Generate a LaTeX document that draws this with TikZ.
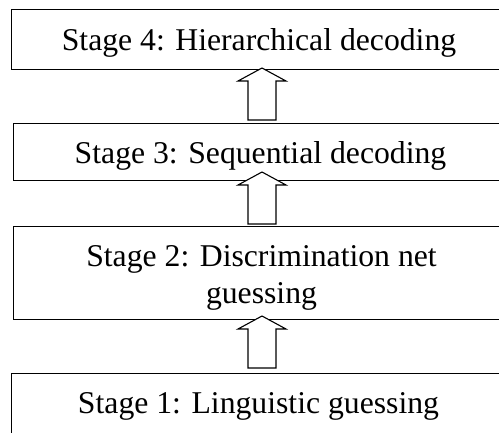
\documentclass[tikz,border=0pt]{standalone}
\usepackage{fontspec}
\setmainfont{Liberation Serif}
\begin{document}
\begin{tikzpicture}[x=1pt,y=-1pt,
  stagebox/.style={draw, line width=1.2pt, fill=white, minimum width=520pt,
    inner sep=0pt, anchor=north west},
  stagetext/.style={inner sep=0pt, anchor=base, align=center,
    font=\fontsize{31.7}{37}\selectfont},
  blockarrow/.style={draw, line width=1.1pt, fill=white, line join=miter}]
\useasboundingbox (0,0) rectangle (499,432);
\clip (0,0) rectangle (499,432);

\begin{scope}[overlay]
% the four stage frames; they run past the right and bottom edges
\node[stagebox, minimum height=60pt] (s4) at (11,9) {};
\node[stagebox, minimum height=57pt] (s3) at (13,122.5) {};
\node[stagebox, minimum height=93pt] (s2) at (13,226) {};
\node[stagebox, minimum height=80pt] (s1) at (11,373) {};

% stage titles, placed on their (last) baselines
\node[stagetext] (t4) at (259,50) {Stage 4: Hierarchical decoding};
\node[stagetext] (t3) at (260.5,163) {Stage 3: Sequential decoding};
\node[stagetext] (t2) at (261.5,303) {Stage 2: Discrimination net\\guessing};
\node[stagetext] (t1) at (258.5,413) {Stage 1: Linguistic guessing};

% hollow block arrows, each given by the middle of its shaft foot
\coordinate (a1) at (262,120);
\coordinate (a2) at (262,224);
\coordinate (a3) at (262,368);
\foreach \a in {a1,a2,a3}
  \draw[blockarrow] (\a) ++(-14,0) -- ++(0,-39) -- ++(-10,0) -- ++(24,-13)
    -- ++(24,13) -- ++(-10,0) -- ++(0,39) -- cycle;
\end{scope}
\end{tikzpicture}
\end{document}
